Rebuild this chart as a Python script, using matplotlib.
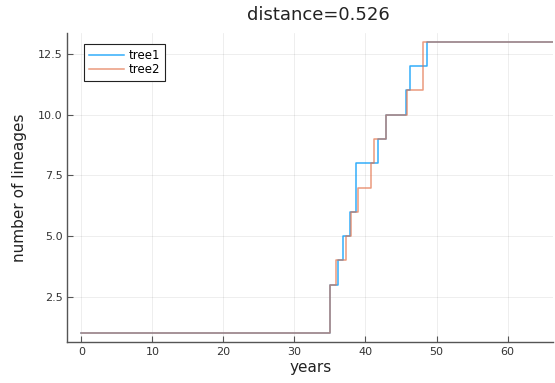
import numpy as np
import matplotlib
matplotlib.use("Agg")
import matplotlib.pyplot as plt

# step data: (time, number of lineages)
tree1_years = [0, 35.0, 36.17, 36.87, 37.8, 38.66, 41.7, 42.88, 45.7, 46.26, 48.7, 66.4]
tree1_lineages = [1, 3, 4, 5, 6, 8, 9, 10, 11, 12, 13, 13]
tree2_years = [0, 35.0, 35.84, 37.3, 37.95, 38.9, 40.8, 41.2, 42.88, 45.9, 48.04, 66.4]
tree2_lineages = [1, 3, 4, 5, 6, 7, 8, 9, 10, 11, 13, 13]

xticks = [0, 10, 20, 30, 40, 50, 60]
yticks = [2.5, 5.0, 7.5, 10.0, 12.5]

blue = (0.0, 0.6056, 0.9787)
orange = (0.8889, 0.4356, 0.2781)

fig = plt.figure(figsize=(5.55, 3.83), dpi=100)
ax = fig.add_axes([0.1216, 0.107, 0.8748, 0.8068])

ax.step(tree1_years, tree1_lineages, where="post", color=blue, lw=1.1, alpha=0.8, label="tree1")
ax.step(tree2_years, tree2_lineages, where="post", color=orange, lw=1.1, alpha=0.7, label="tree2")

ax.set_xlim(-1.95, 66.4)
ax.set_ylim(0.64, 13.36)
ax.set_xticks(xticks)
ax.set_yticks(yticks)
ax.set_yticklabels(["%.1f" % v for v in yticks])

for side in ["top", "right"]:
    ax.spines[side].set_visible(False)
for side in ["left", "bottom"]:
    ax.spines[side].set_color("#555555")
    ax.spines[side].set_linewidth(1.0)

ax.tick_params(direction="in", length=4, width=0.8, color="#555555", labelsize=8, labelcolor="#333333")
ax.grid(True, color="black", alpha=0.08, linewidth=0.6)

ax.set_xlabel("years", fontsize=11, labelpad=2, color="#222222")
ax.set_ylabel("number of lineages", fontsize=11, labelpad=8, color="#222222")
fig.text(0.573, 0.962, "distance=0.526", fontsize=13, ha="center", va="center", color="#222222")

leg = ax.legend(loc="upper left", fontsize=8.5, fancybox=False, framealpha=1,
                edgecolor="#222222", borderpad=0.45, handlelength=2.9,
                handletextpad=0.4, labelspacing=0.05, borderaxespad=0,
                bbox_to_anchor=(0.034, 0.965))
leg.get_frame().set_linewidth(0.8)

fig.savefig("out.png", dpi=100)
